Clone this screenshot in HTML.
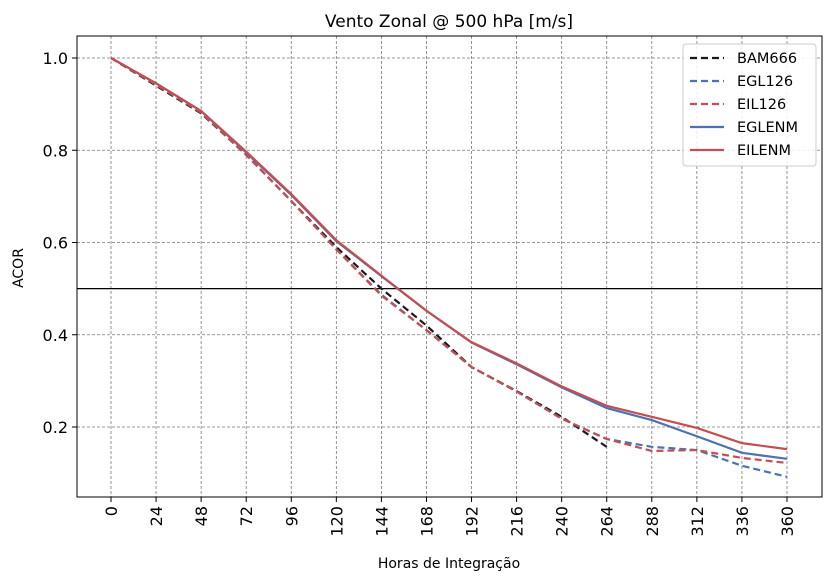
<!DOCTYPE html>
<html><head><meta charset="utf-8"><style>
body{margin:0;background:#fff;font-family:"DejaVu Sans","Liberation Sans",sans-serif}
svg text{font-family:"DejaVu Sans","Liberation Sans",sans-serif}
</style></head><body>
<svg id="chart" width="833" height="582" xmlns="http://www.w3.org/2000/svg"></svg>
<script>
const hours = [0,24,48,72,96,120,144,168,192,216,240,264,288,312,336,360];
const yTicks = [0.2,0.4,0.6,0.8,1.0];
const bam666 = [1.0,0.94,0.88,0.79,0.69,0.59,0.50,0.42,0.33,0.278,0.222,0.157];
const egl126 = [1.0,0.942,0.882,0.79,0.69,0.585,0.487,0.41,0.33,0.277,0.218,0.174,0.157,0.150,0.116,0.092];
const eil126 = [1.0,0.942,0.882,0.79,0.69,0.585,0.485,0.41,0.33,0.277,0.218,0.174,0.148,0.150,0.133,0.122];
const eglenm = [1.0,0.945,0.885,0.795,0.703,0.603,0.527,0.452,0.383,0.336,0.286,0.241,0.215,0.180,0.144,0.131];
const eilenm = [1.0,0.945,0.885,0.797,0.705,0.605,0.528,0.452,0.384,0.338,0.288,0.246,0.222,0.198,0.165,0.152];
const refLine = 0.5;

const NS="http://www.w3.org/2000/svg";
const svg=document.getElementById('chart');
const L=77,R=822,T=36,B=497;
const xs=h=>111+h*(787-111)/360;
const ys=v=>58+(1-v)*461.25;
function mk(tag,attrs,parent){const e=document.createElementNS(NS,tag);for(const k in attrs)e.setAttribute(k,attrs[k]);(parent||svg).appendChild(e);return e;}

const grid=mk('g',{});


hours.forEach(h=>{
  const l=mk('line',{x1:xs(h),x2:xs(h),y1:T,y2:B,stroke:'#777','stroke-width':0.8,'stroke-dasharray':'3,2'},grid);
  
  
  const t=mk('line',{x1:xs(h),x2:xs(h),y1:B,y2:B+5,stroke:'#000','stroke-width':1});
  
  
  const tx=mk('text',{x:0,y:0,'font-size':16,'text-anchor':'end',transform:`translate(${xs(h)+6},${B+9}) rotate(-90)`});
  tx.textContent=h;
  
  
});
yTicks.forEach(v=>{
  const l=mk('line',{x1:L,x2:R,y1:ys(v),y2:ys(v),stroke:'#777','stroke-width':0.8,'stroke-dasharray':'3,2'},grid);
  
  
  const t=mk('line',{x1:L-5,x2:L,y1:ys(v),y2:ys(v),stroke:'#000','stroke-width':1});
  
  
  const tx=mk('text',{x:L-9,y:ys(v)+6,'font-size':16,'text-anchor':'end'});
  tx.textContent=v.toFixed(1);
  
  
});
const ref=mk('line',{x1:L,x2:R,y1:ys(refLine),y2:ys(refLine),stroke:'#000','stroke-width':1.3});



const series=[
  {name:'BAM666',data:bam666,color:'#1a1a1a',dash:'7,4'},
  {name:'EGL126',data:egl126,color:'#4c72b0',dash:'7,4'},
  {name:'EIL126',data:eil126,color:'#c44e52',dash:'7,4'},
  {name:'EGLENM',data:eglenm,color:'#4c72b0',dash:''},
  {name:'EILENM',data:eilenm,color:'#c44e52',dash:''}
];
series.forEach(s=>{
  const pts=s.data.map((v,i)=>xs(hours[i])+','+ys(v)).join(' ');
  const p=mk('polyline',{points:pts,fill:'none',stroke:s.color,'stroke-width':2.2,'stroke-dasharray':s.dash});
  
  
});

const frame=mk('rect',{x:L,y:T,width:R-L,height:B-T,fill:'none',stroke:'#000','stroke-width':1});



const lg=mk('g',{});


mk('rect',{x:683,y:44,width:133,height:122,rx:3,fill:'#fff','fill-opacity':0.85,stroke:'#ccc'},lg);
series.forEach((s,i)=>{
  const y=58+i*23;
  const e=mk('g',{},lg);
  
  
  mk('line',{x1:690,x2:724,y1:y,y2:y,stroke:s.color,'stroke-width':2.2,'stroke-dasharray':s.dash},e);
  const t=mk('text',{x:737,y:y+5,'font-size':14.5},e);
  t.textContent=s.name;
});

const title=mk('text',{x:449,y:27,'font-size':17,'text-anchor':'middle'});
title.textContent='Vento Zonal @ 500 hPa [m/s]';


const xt=mk('text',{x:449,y:568,'font-size':14,'text-anchor':'middle'});
xt.textContent='Horas de Integração';


const yt=mk('text',{x:0,y:0,'font-size':14,'text-anchor':'middle',transform:'translate(23,268) rotate(-90)'});
yt.textContent='ACOR';


</script>
</body></html>
